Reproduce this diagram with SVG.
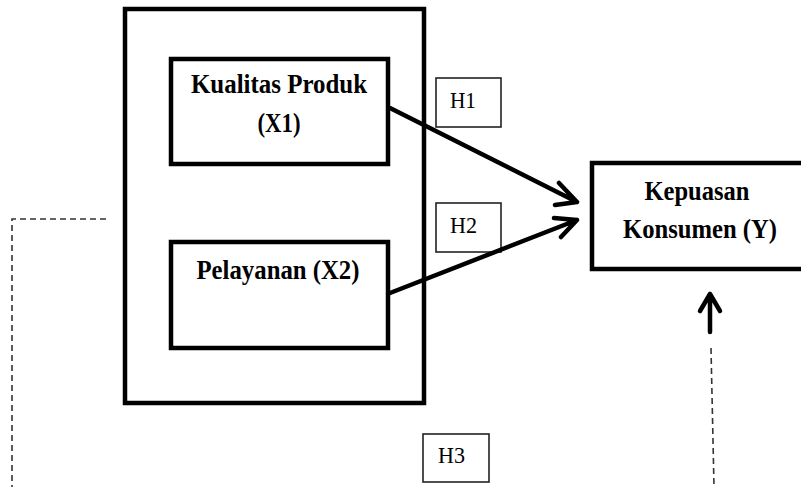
<svg xmlns="http://www.w3.org/2000/svg" width="801" height="487" viewBox="0 0 801 487">
<style>
.box{fill:#fff;stroke:#000;stroke-width:4.5}
.hbox{fill:#fff;stroke:#222;stroke-width:1.6}
.t{font-family:"Liberation Serif","Times New Roman",serif;font-weight:bold;font-size:28px;fill:#000}
.h{font-family:"Liberation Serif","Times New Roman",serif;font-size:23px;fill:#000}
.arr{fill:none;stroke:#000;stroke-width:4.5;stroke-linecap:round;stroke-linejoin:round}
.dash{fill:none;stroke:#333;stroke-width:1.6;stroke-dasharray:6 4}
</style>
<rect width="801" height="487" fill="#fff"/>
<g id="outer"><rect class="box" x="125" y="9" width="299" height="394"/></g>
<g id="x1"><rect class="box" x="171" y="59" width="217" height="105"/>
<text class="t" x="279" y="93" text-anchor="middle" textLength="176" lengthAdjust="spacingAndGlyphs">Kualitas Produk</text>
<text class="t" x="279" y="132" text-anchor="middle" textLength="43" lengthAdjust="spacingAndGlyphs">(X1)</text></g>
<g id="x2"><rect class="box" x="171" y="242" width="217" height="106"/>
<text class="t" x="278" y="279" text-anchor="middle" textLength="163" lengthAdjust="spacingAndGlyphs">Pelayanan (X2)</text></g>
<g id="y"><rect class="box" x="592" y="163" width="215" height="106"/>
<text class="t" x="697" y="200" text-anchor="middle" textLength="105" lengthAdjust="spacingAndGlyphs">Kepuasan</text>
<text class="t" x="700" y="238" text-anchor="middle" textLength="154" lengthAdjust="spacingAndGlyphs">Konsumen (Y)</text></g>
<g id="h1"><rect class="hbox" x="436" y="78" width="65" height="49"/><text class="h" x="450" y="108" textLength="26" lengthAdjust="spacingAndGlyphs">H1</text></g>
<g id="h2"><rect class="hbox" x="436" y="203" width="65" height="49"/><text class="h" x="450" y="233" textLength="27" lengthAdjust="spacingAndGlyphs">H2</text></g>
<g id="h3"><rect class="hbox" x="423" y="434" width="66" height="48"/><text class="h" x="438" y="463" textLength="27" lengthAdjust="spacingAndGlyphs">H3</text></g>
<g id="connectors">
<path class="arr" d="M390 108 L577 202 M559 183 L577 202 L555 205"/>
<path class="arr" d="M390 293 L577 220 M554 218 L577 220 L561 237"/>
<path class="arr" d="M710 332 L710 294 M700 311 L710 294 L720 311"/>
<path class="dash" d="M711 348 L714 487"/>
<path class="dash" d="M106 219 L12 219 L12 487"/>
</g>
</svg>
